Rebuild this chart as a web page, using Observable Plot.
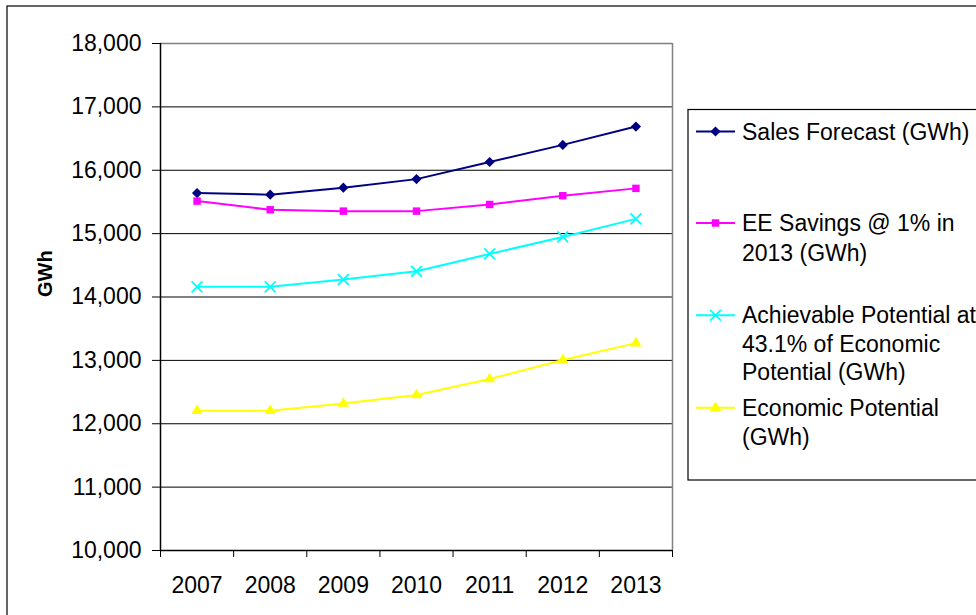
<!DOCTYPE html>
<html>
<head>
<meta charset="utf-8">
<script src="https://cdn.jsdelivr.net/npm/d3@7"></script>
<script src="https://cdn.jsdelivr.net/npm/@observablehq/plot@0.6"></script>
<style>
  html, body { margin: 0; padding: 0; background: #fff; overflow: hidden; }
  #chart svg { display: block; overflow: hidden; }
</style>
</head>
<body>
<div id="chart"></div>
<script>
// ---- Data ----
const years = [2007, 2008, 2009, 2010, 2011, 2012, 2013];
const salesForecast = [15640, 15615, 15725, 15860, 16130, 16400, 16690];
const eeSavings     = [15513, 15376, 15355, 15355, 15460, 15598, 15714];
const achievable    = [14160, 14160, 14275, 14405, 14680, 14948, 15233];
const economic      = [12205, 12205, 12320, 12455, 12705, 13005, 13272];
const yTicks = [10000, 11000, 12000, 13000, 14000, 15000, 16000, 17000, 18000];

const seriesNames = [
  "Sales Forecast (GWh)",
  "EE Savings @ 1% in 2013 (GWh)",
  "Achievable Potential at 43.1% of Economic Potential (GWh)",
  "Economic Potential (GWh)"
];
const legendLines = [
  ["Sales Forecast (GWh)"],
  ["EE Savings @ 1% in", "2013 (GWh)"],
  ["Achievable Potential at", "43.1% of Economic", "Potential (GWh)"],
  ["Economic Potential", "(GWh)"]
];
const seriesValues = [salesForecast, eeSavings, achievable, economic];
const seriesColors = ["#000080", "#FF00FF", "#00FFFF", "#FFFF00"];
const seriesSymbols = ["diamond2", "square", "times", "triangle"];

const rows = seriesNames.flatMap((name, i) =>
  years.map((year, j) => ({series: name, year, value: seriesValues[i][j]})));

const FONT = "'Liberation Sans', Arial, sans-serif";
const boundaries = d3.range(years.length + 1).map(i => years[0] - 0.5 + i);
const xDomain = [boundaries[0], boundaries[boundaries.length - 1]];
const symR = {diamond2: 4.6, square: 4.2, times: 5.0, triangle: 4.2};

const marks = [
  Plot.ruleY(yTicks.filter(t => t > yTicks[0] && t < yTicks[yTicks.length - 1]), {stroke: "#000", strokeWidth: 1}),
  Plot.ruleY([yTicks[yTicks.length - 1]], {stroke: "#808080", strokeWidth: 1.5}),
  Plot.ruleX([xDomain[1]], {stroke: "#808080", strokeWidth: 1.5}),
  Plot.ruleX([xDomain[0]], {stroke: "#000", strokeWidth: 1.5}),
  Plot.ruleY([yTicks[0]], {stroke: "#000", strokeWidth: 1.5}),
  Plot.axisY({ticks: yTicks, tickFormat: d3.format(","), tickSize: 8, tickPadding: 11, fontSize: 23, label: null, stroke: "#000"}),
  Plot.axisX({ticks: boundaries, tickFormat: () => "", tickSize: 7, label: null, stroke: "#000"}),
  Plot.axisX({ticks: years, tickFormat: d => String(d), tickSize: 0, tickPadding: 26, fontSize: 23, label: null}),
  Plot.text(["GWh"], {frameAnchor: "left", dx: -115, rotate: -90, fontWeight: "bold", fontSize: 20, fill: "#000"})
];

seriesNames.forEach((name, i) => {
  const data = rows.filter(d => d.series === name);
  marks.push(Plot.line(data, {x: "year", y: "value", stroke: seriesColors[i], strokeWidth: 2}));
});
seriesNames.forEach((name, i) => {
  const data = rows.filter(d => d.series === name);
  const sym = seriesSymbols[i];
  if (sym === "times") {
    marks.push(Plot.dot(data, {x: "year", y: "value", symbol: sym, r: symR[sym], stroke: seriesColors[i], strokeWidth: 1.8, fill: "none"}));
  } else {
    marks.push(Plot.dot(data, {x: "year", y: "value", symbol: sym, r: symR[sym], fill: seriesColors[i], stroke: "none"}));
  }
});

const svg = Plot.plot({
  width: 976,
  height: 615,
  marginLeft: 160,
  marginRight: 304,
  marginTop: 43,
  marginBottom: 65,
  x: {domain: xDomain, axis: null},
  y: {domain: [yTicks[0], yTicks[yTicks.length - 1]], axis: null},
  style: {fontFamily: FONT, fontSize: "23px", color: "#000", background: "#fff"},
  marks
});
document.getElementById("chart").appendChild(svg);

// ---- outer frame and legend ----
const s = d3.select(svg);
s.append("rect").attr("x", 7).attr("y", 6).attr("width", 1200).attr("height", 1200)
  .attr("fill", "none").attr("stroke", "#000").attr("stroke-width", 1.2);

const lg = s.append("g").attr("font-family", FONT).attr("font-size", 23)
  .attr("fill", "#000").attr("text-anchor", "start");
lg.append("rect").attr("x", 688).attr("y", 109.5).attr("width", 600).attr("height", 370.5)
  .attr("fill", "#fff").attr("stroke", "#000").attr("stroke-width", 1.2);

const firstBaselines = [139.5, 231, 323.3, 415.7];
const lineHeights = [29, 30, 28.3, 29.3];
const d3Symbols = {diamond2: d3.symbolDiamond2, square: d3.symbolSquare, times: d3.symbolTimes, triangle: d3.symbolTriangle};
legendLines.forEach((lines, i) => {
  const cy = firstBaselines[i] - 8;
  lg.append("line").attr("x1", 696).attr("x2", 735).attr("y1", cy).attr("y2", cy)
    .attr("stroke", seriesColors[i]).attr("stroke-width", 2);
  const sym = seriesSymbols[i];
  const rr = symR[sym];
  const p = lg.append("path").attr("transform", `translate(715.5,${cy})`)
    .attr("d", d3.symbol(d3Symbols[sym], rr * rr * Math.PI)());
  if (sym === "times") p.attr("fill", "none").attr("stroke", seriesColors[i]).attr("stroke-width", 1.8);
  else p.attr("fill", seriesColors[i]);
  const t = lg.append("text").attr("x", 742).attr("y", firstBaselines[i]);
  lines.forEach((ln, k) => {
    t.append("tspan").attr("x", 742).attr("y", firstBaselines[i] + k * lineHeights[i]).text(ln);
  });
});
</script>
</body>
</html>
